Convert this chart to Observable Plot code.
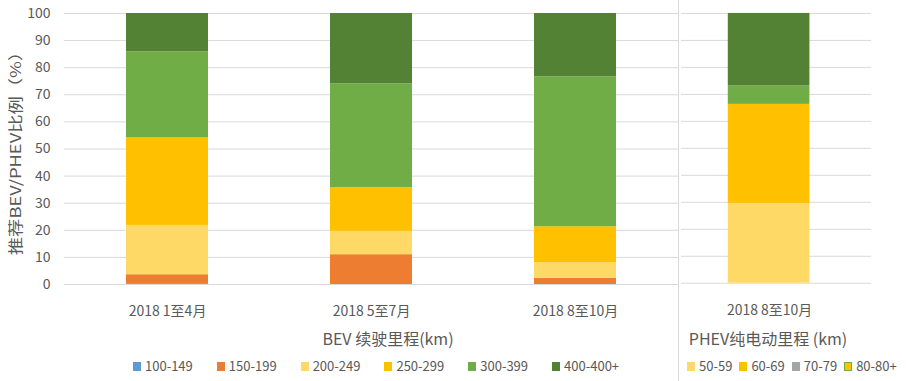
<!DOCTYPE html>
<html><head><meta charset="utf-8">
<script src="https://cdn.jsdelivr.net/npm/d3@7"></script>
<script src="https://cdn.jsdelivr.net/npm/@observablehq/plot@0.6"></script>
<style>
body{margin:0;background:#fff;font-family:"Noto Sans CJK SC","Noto Sans",sans-serif;color:#595959;}
#root{position:relative;width:906px;height:381px;overflow:hidden;background:#fff;}
.plot{position:absolute;top:0;}
#left{left:0;}
#right{left:678px;border-left:1px solid #d9d9d9;height:381px;}
.t{position:absolute;white-space:nowrap;color:#595959;}
#ytitle{left:14px;top:149px;font-size:15px;transform:translate(-50%,-50%) rotate(-90deg) scaleX(1.22);}
#bevTitle{left:388px;top:338px;font-size:16px;transform:translate(-50%,-50%);}
#phevTitle{left:768px;top:338px;font-size:16px;transform:translate(-50%,-50%);}
.legend{position:absolute;top:359px;display:flex;flex-wrap:nowrap;white-space:nowrap;font-size:13px;line-height:14px;color:#595959;width:max-content;}
.legend .item{display:flex;align-items:center;flex-shrink:0;}
.legend .sw{width:8px;height:9px;margin-right:4px;box-sizing:border-box;flex-shrink:0;}
#bevLegend{left:133px;}
#bevLegend .item{margin-right:24px;}
#phevLegend{left:687px;}
#phevLegend .item{margin-right:7px;}
</style>
</head><body>
<div id="root">
  <div id="left" class="plot"></div>
  <div id="right" class="plot"></div>
  <div id="ytitle" class="t">推荐BEV/PHEV比例（%）</div>
  <div id="bevTitle" class="t">BEV 续驶里程(km)</div>
  <div id="phevTitle" class="t">PHEV纯电动里程 (km)</div>
  <div id="bevLegend" class="legend"></div>
  <div id="phevLegend" class="legend"></div>
</div>
<script>
// ---- data ----
const bevPeriods = ["2018 1至4月", "2018 5至7月", "2018 8至10月"];
const bevRanges = ["100-149", "150-199", "200-249", "250-299", "300-399", "400-400+"];
const bevColors = ["#5b9bd5", "#ed7d31", "#ffd966", "#ffc000", "#70ad47", "#548235"];
const s100_149 = [0.3, 0.0, 0.0];
const s150_199 = [3.3, 11.0, 2.3];
const s200_249 = [18.2, 8.6, 5.8];
const s250_299 = [32.3, 16.2, 13.2];
const s300_399 = [31.8, 38.2, 55.3];
const s400plus = [14.1, 26.0, 23.4];
const bevSeries = [s100_149, s150_199, s200_249, s250_299, s300_399, s400plus];

const phevPeriods = ["2018 8至10月"];
const phevRanges = ["50-59", "60-69", "70-79", "80-80+"];
const phevValues = [29.6, 36.7, 6.8, 26.9];
const phevBarColors = ["#ffd966", "#ffc000", "#70ad47", "#548235"];
const phevLegendColors = ["#ffd966", "#ffc000", "#a5a5a5", "#ffc000"];
const phevLegendBorders = [null, null, null, "#70ad47"];

const yTicks = [0, 10, 20, 30, 40, 50, 60, 70, 80, 90, 100];

// ---- tables ----
const bevData = [];
bevRanges.forEach((r, i) => bevPeriods.forEach((p, j) => bevData.push({period: p, range: r, value: bevSeries[i][j]})));
const phevData = phevRanges.map((r, i) => ({period: phevPeriods[0], range: r, value: phevValues[i]}));

const common = {
  height: 381, marginTop: 13, marginBottom: 97,
  style: {fontFamily: '"Noto Sans CJK SC","Noto Sans",sans-serif', fontSize: "14px", color: "#595959", background: "transparent", overflow: "visible"}
};

const left = Plot.plot({
  ...common,
  width: 678, marginLeft: 64, marginRight: 0,
  x: {domain: bevPeriods, paddingInner: 0.6, paddingOuter: 0.3, axis: null},
  y: {domain: [0, 100], ticks: yTicks, axis: null},
  color: {domain: bevRanges, range: bevColors},
  marks: [
    Plot.gridY(yTicks, {stroke: "#d9d9d9", strokeOpacity: 1, strokeWidth: 1}),
    Plot.barY(bevData, {x: "period", y: "value", fill: "range"}),
    Plot.axisY(yTicks, {tickSize: 0, tickPadding: 14, fontSize: 14, fill: "#595959", label: null}),
    Plot.axisX({tickSize: 0, tickPadding: 22, fontSize: 14, fill: "#595959", label: null})
  ]
});
document.getElementById("left").appendChild(left);

const right = Plot.plot({
  ...common,
  width: 228, marginLeft: 2, marginRight: 35,
  x: {domain: phevPeriods, padding: 0, axis: null},
  y: {domain: [0, 100], ticks: yTicks, axis: null},
  color: {domain: phevRanges, range: phevBarColors},
  marks: [
    Plot.gridY(yTicks, {stroke: "#d9d9d9", strokeOpacity: 1, strokeWidth: 1}),
    Plot.barY(phevData, {x: "period", y: "value", fill: "range", insetLeft: 47, insetRight: 62}),
    Plot.axisX({tickSize: 0, tickPadding: 22, fontSize: 14, fill: "#595959", label: null, dx: -7})
  ]
});
document.getElementById("right").appendChild(right);

// ---- legends ----
const bl = document.getElementById("bevLegend");
bevRanges.forEach((r, i) => {
  const it = document.createElement("div"); it.className = "item";
  it.innerHTML = `<span class="sw" style="background:${bevColors[i]}"></span><span>${r}</span>`;
  bl.appendChild(it);
});
const pl = document.getElementById("phevLegend");
phevRanges.forEach((r, i) => {
  const it = document.createElement("div"); it.className = "item";
  const b = phevLegendBorders[i] ? `border:1.5px solid ${phevLegendBorders[i]};` : "";
  it.innerHTML = `<span class="sw" style="background:${phevLegendColors[i]};${b}"></span><span>${r}</span>`;
  pl.appendChild(it);
});
</script>
</body></html>
